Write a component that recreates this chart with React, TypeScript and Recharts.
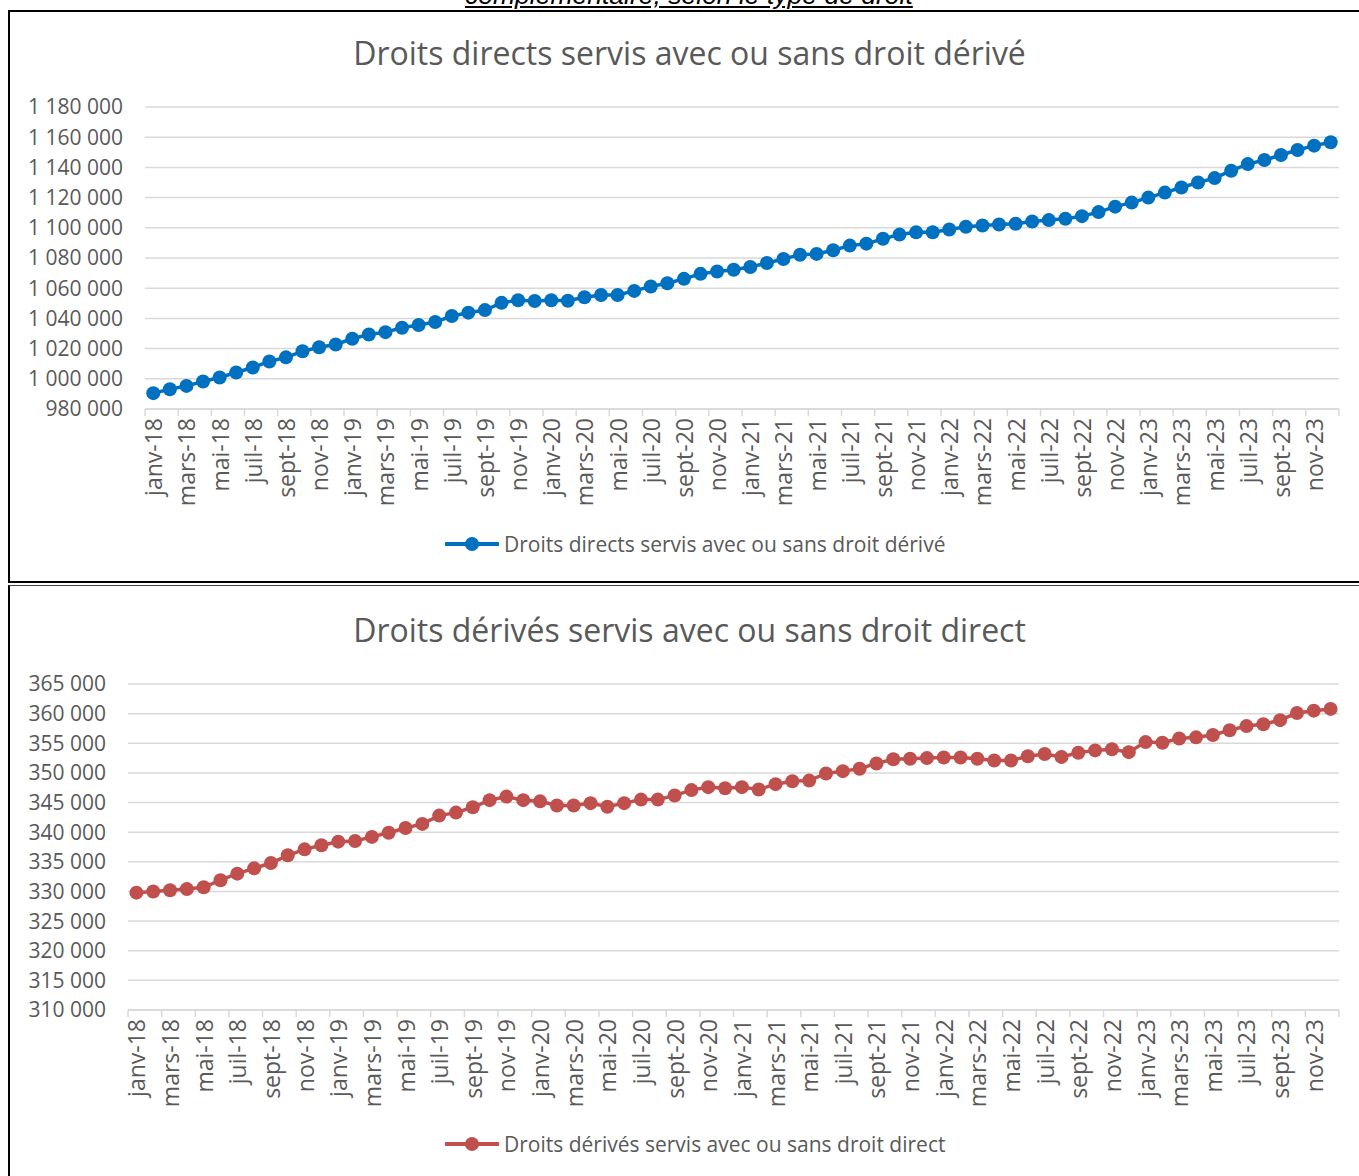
import React from 'react';
import { LineChart, Line, XAxis, YAxis, CartesianGrid, Legend } from 'recharts';

if (typeof document !== 'undefined') {
  document.body.style.margin = '0';
  document.body.style.overflow = 'hidden';
}

const categories: string[] = [
  'janv-18', 'févr-18', 'mars-18', 'avr-18', 'mai-18', 'juin-18', 'juil-18', 'août-18', 'sept-18', 'oct-18', 'nov-18', 'déc-18',
  'janv-19', 'févr-19', 'mars-19', 'avr-19', 'mai-19', 'juin-19', 'juil-19', 'août-19', 'sept-19', 'oct-19', 'nov-19', 'déc-19',
  'janv-20', 'févr-20', 'mars-20', 'avr-20', 'mai-20', 'juin-20', 'juil-20', 'août-20', 'sept-20', 'oct-20', 'nov-20', 'déc-20',
  'janv-21', 'févr-21', 'mars-21', 'avr-21', 'mai-21', 'juin-21', 'juil-21', 'août-21', 'sept-21', 'oct-21', 'nov-21', 'déc-21',
  'janv-22', 'févr-22', 'mars-22', 'avr-22', 'mai-22', 'juin-22', 'juil-22', 'août-22', 'sept-22', 'oct-22', 'nov-22', 'déc-22',
  'janv-23', 'févr-23', 'mars-23', 'avr-23', 'mai-23', 'juin-23', 'juil-23', 'août-23', 'sept-23', 'oct-23', 'nov-23', 'déc-23',
];

const directValues: number[] = [
  990500, 993100, 995300, 998200, 1000900, 1004200, 1007500, 1011500, 1014200, 1018200, 1020900, 1022700,
  1026500, 1029300, 1030900, 1033800, 1035600, 1037600, 1041600, 1043800, 1045500, 1050300, 1052000, 1051500,
  1052000, 1051700, 1054000, 1055500, 1055500, 1058200, 1061100, 1063300, 1066200, 1069500, 1071100, 1072200,
  1074000, 1076700, 1079300, 1082200, 1082700, 1085100, 1088200, 1089500, 1092700, 1095500, 1097000, 1097100,
  1098900, 1100700, 1101500, 1102200, 1102700, 1104200, 1105100, 1106000, 1107700, 1110400, 1114000, 1116700,
  1120000, 1123300, 1126700, 1130000, 1132900, 1137800, 1142200, 1144900, 1148200, 1151500, 1154400, 1156700,
];

const derivedValues: number[] = [
  329800, 330000, 330200, 330400, 330700, 331900, 333000, 333900, 334800, 336100, 337100, 337800,
  338400, 338500, 339200, 339900, 340700, 341400, 342800, 343300, 344200, 345400, 346000, 345400,
  345200, 344500, 344500, 344900, 344300, 344900, 345500, 345500, 346200, 347100, 347600, 347400,
  347600, 347200, 348100, 348600, 348700, 349900, 350300, 350700, 351600, 352300, 352400, 352500,
  352600, 352600, 352400, 352100, 352100, 352800, 353200, 352700, 353400, 353800, 354000, 353500,
  355200, 355100, 355800, 356000, 356400, 357200, 357900, 358200, 358900, 360100, 360500, 360800,
];

const directTicks: number[] = [980000, 1000000, 1020000, 1040000, 1060000, 1080000, 1100000, 1120000, 1140000, 1160000, 1180000];
const derivedTicks: number[] = [310000, 315000, 320000, 325000, 330000, 335000, 340000, 345000, 350000, 355000, 360000, 365000];

const directName = 'Droits directs servis avec ou sans droit dérivé';
const derivedName = 'Droits dérivés servis avec ou sans droit direct';
const headerText = 'complémentaire, selon le type de droit';

const directData = categories.map((c, i) => ({ month: c, value: directValues[i] }));
const derivedData = categories.map((c, i) => ({ month: c, value: derivedValues[i] }));

const FONT = '"Open Sans", "Noto Sans", sans-serif';
const TEXT = '#595959';
const GRID = '#d9d9d9';

const fmt = (v: number) => String(v).replace(/\B(?=(\d{3})+(?!\d))/g, ' ');

const makeTick = (band: number, count: number) => (props: any) => {
  const { x, y, payload } = props;
  const lx = x - band / 2;
  const isLast = payload && payload.index === count - 2;
  return (
    <g>
      <line x1={lx} y1={y} x2={lx} y2={y + 7} stroke={GRID} strokeWidth={1.5} />
      {isLast ? <line x1={x + band * 1.5} y1={y} x2={x + band * 1.5} y2={y + 7} stroke={GRID} strokeWidth={1.5} /> : null}
      <text
        x={x}
        y={y + 9}
        transform={`rotate(-90, ${x}, ${y + 9})`}
        textAnchor="end"
        dominantBaseline="central"
        fill={TEXT}
        fontSize={23}
        fontFamily={FONT}
      >
        {payload.value}
      </text>
    </g>
  );
};

const LegendContent = ({ color, label }: { color: string; label: string }) => (
  <div style={{ display: 'flex', alignItems: 'center', height: 24, fontFamily: FONT, fontSize: 21, color: TEXT, whiteSpace: 'nowrap' }}>
    <svg width={54} height={18} style={{ marginRight: 5 }}>
      <line x1={1} y1={9} x2={53} y2={9} stroke={color} strokeWidth={4} strokeLinecap="round" />
      <circle cx={27} cy={9} r={7} fill={color} />
    </svg>
    <span style={{ lineHeight: '24px' }}>{label}</span>
  </div>
);

type PanelProps = {
  data: { month: string; value: number }[];
  color: string;
  name: string;
  ticks: number[];
  domain: [number, number];
  chartTop: number;
  chartHeight: number;
  marginTop: number;
  marginBottom: number;
  xAxisHeight: number;
  yAxisWidth: number;
  legendTop: number;
};

const Panel = (p: PanelProps) => {
  const width = 1359;
  const right = 20;
  const band = (width - right - p.yAxisWidth) / p.data.length;
  return (
    <div style={{ position: 'absolute', left: 0, top: p.chartTop }}>
      <LineChart
        width={width}
        height={p.chartHeight}
        data={p.data}
        margin={{ top: p.marginTop, right, bottom: p.marginBottom, left: 0 }}
      >
        <CartesianGrid vertical={false} stroke={GRID} strokeWidth={1.5} />
        <XAxis
          dataKey="month"
          interval={1}
          height={p.xAxisHeight}
          padding={{ left: band / 2, right: band / 2 }}
          tickLine={false}
          tickSize={0}
          tickMargin={0}
          axisLine={{ stroke: GRID, strokeWidth: 1.5 }}
          tick={makeTick(band, p.data.length)}
        />
        <YAxis
          domain={p.domain}
          ticks={p.ticks}
          interval={0}
          width={p.yAxisWidth}
          axisLine={false}
          tickLine={false}
          tickSize={0}
          tickMargin={22}
          tickFormatter={fmt}
          tick={{ fill: TEXT, fontSize: 21, fontFamily: FONT }}
          allowDataOverflow
        />
        <Legend
          layout="horizontal"
          verticalAlign="middle"
          align="center"
          wrapperStyle={{ top: p.legendTop, left: 445, width: 'auto' }}
          content={() => <LegendContent color={p.color} label={p.name} />}
        />
        <Line
          type="linear"
          dataKey="value"
          name={p.name}
          stroke={p.color}
          strokeWidth={3.5}
          dot={{ r: 7, fill: p.color, stroke: p.color, strokeWidth: 0 }}
          activeDot={false}
          isAnimationActive={false}
        />
      </LineChart>
    </div>
  );
};

const Title = ({ top, text }: { top: number; text: string }) => (
  <div
    style={{
      position: 'absolute',
      left: 0,
      width: 1379,
      top,
      height: 44,
      lineHeight: '44px',
      textAlign: 'center',
      fontFamily: FONT,
      fontSize: 32,
      color: TEXT,
      whiteSpace: 'nowrap',
    }}
  >
    {text}
  </div>
);

export default function App() {
  return (
    <div style={{ position: 'relative', width: 1359, height: 1176, overflow: 'hidden', background: '#fff' }}>
      <div
        style={{
          position: 'absolute',
          left: 465,
          top: -18,
          fontFamily: '"Liberation Sans", Arial, sans-serif',
          fontStyle: 'italic',
          textDecoration: 'underline',
          fontSize: 26.5,
          lineHeight: '26px',
          color: '#000',
          whiteSpace: 'nowrap',
        }}
      >
        {headerText}
      </div>
      <div style={{ position: 'absolute', left: 8, top: 10, width: 1400, height: 573, boxSizing: 'border-box', border: '2px solid #000' }} />
      <div style={{ position: 'absolute', left: 8, top: 585, width: 1400, height: 620, boxSizing: 'border-box', borderLeft: '2px solid #000', borderTop: '1px solid #444' }} />
      <Title top={31} text={directName} />
      <Title top={608} text={derivedName} />
      <Panel
        data={directData}
        color="#0070C0"
        name={directName}
        ticks={directTicks}
        domain={[980000, 1180000]}
        chartTop={90}
        chartHeight={480}
        marginTop={17}
        marginBottom={82}
        xAxisHeight={79}
        yAxisWidth={145}
        legendTop={442}
      />
      <Panel
        data={derivedData}
        color="#C0504D"
        name={derivedName}
        ticks={derivedTicks}
        domain={[310000, 365000]}
        chartTop={670}
        chartHeight={500}
        marginTop={14}
        marginBottom={80}
        xAxisHeight={80}
        yAxisWidth={128}
        legendTop={462}
      />
    </div>
  );
}
